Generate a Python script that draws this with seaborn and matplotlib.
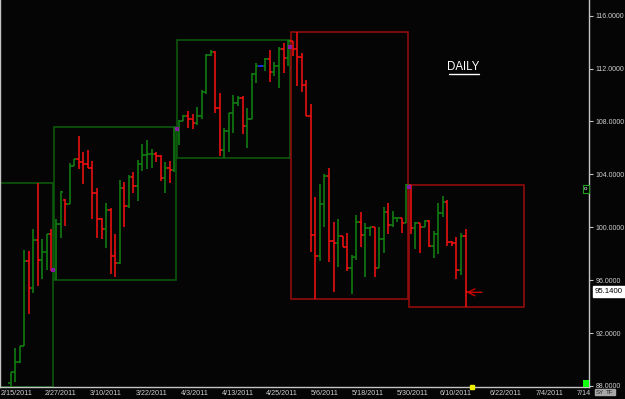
import matplotlib
matplotlib.use("Agg")
import matplotlib.pyplot as plt
import seaborn as sns
import numpy as np
from matplotlib.patches import Rectangle

# ---------------- data (daily OHLC) ----------------
opens = [88.2, 89.05, 89.8, 91.05, 97.45, 95.38, 99.04, 97.52, 98.15, 99.47,
         96.77, 100.24, 102.06, 101.73, 104.65, 105.16, 104.9, 104.8, 104.45, 102.6,
         100.6, 99.87, 101.28, 97.85, 97.3, 103.0, 101.58, 103.8, 103.1, 104.76,
         105.46, 105.5, 105.55, 105.36, 103.7, 104.45, 104.33, 107.5, 108.0, 108.4,
         108.16, 107.85, 108.4, 110.2, 113.02, 113.27, 108.98, 105.84, 107.3, 108.6,
         109.4, 109.8, 107.67, 108.2, 111.58, 112.2, 112.2, 112.7, 111.77, 112.2,
         113.47, 112.76, 114.1, 113.44, 112.9, 110.75, 108.43, 99.41, 97.83, 101.76,
         103.87, 98.96, 98.78, 99.34, 98.47, 96.95, 97.72, 100.37, 99.41, 99.92,
         100.0, 96.9, 99.1, 101.12, 100.17, 100.67, 100.7, 100.35, 103.2, 99.92,
         100.3, 100.04, 100.47, 98.6, 99.47, 101.05, 101.88, 98.85, 98.78, 96.77,
         99.36]
highs = [89.05, 90.9, 91.05, 98.28, 98.2, 99.87, 103.37, 99.09, 99.47, 99.84,
         100.62, 102.76, 102.13, 104.83, 105.16, 106.92, 105.7, 105.84, 105.0, 102.93,
         100.67, 101.8, 101.43, 99.5, 103.57, 103.4, 103.95, 104.2, 105.08, 106.3,
         106.6, 105.9, 105.67, 105.46, 104.9, 105.0, 107.6, 108.1, 108.5, 108.75,
         108.56, 109.06, 110.37, 113.1, 113.4, 113.3, 110.17, 107.5, 108.65, 110.0,
         109.9, 109.9, 109.0, 111.63, 112.4, 112.3, 112.76, 113.4, 112.5, 113.66,
         113.9, 114.15, 114.1, 114.73, 113.14, 111.13, 109.3, 102.26, 103.3, 104.0,
         104.5, 100.37, 100.6, 99.34, 99.54, 97.9, 100.92, 101.13, 100.3, 100.0,
         100.0, 100.0, 101.55, 101.8, 101.2, 100.73, 100.7, 103.3, 103.2, 100.42,
         100.3, 100.55, 100.55, 99.72, 101.8, 102.36, 102.06, 98.96, 99.24, 99.54,
         99.87]
lows = [87.95, 88.33, 89.76, 91.05, 93.42, 95.05, 95.56, 96.11, 96.77, 96.7,
        96.0, 99.16, 100.1, 101.73, 104.6, 104.38, 103.27, 104.45, 100.6, 99.16,
        99.1, 98.4, 96.5, 96.2, 97.2, 100.0, 101.45, 102.56, 101.98, 104.28,
        104.4, 104.45, 104.9, 103.5, 102.6, 103.36, 104.2, 106.2, 108.0, 107.5,
        107.4, 107.7, 108.16, 110.1, 112.95, 108.6, 105.35, 105.2, 105.7, 107.1,
        109.2, 107.05, 106.0, 108.16, 110.9, 112.15, 111.84, 111.0, 111.4, 110.5,
        111.63, 112.2, 112.96, 110.7, 110.25, 108.43, 98.15, 94.58, 97.47, 100.0,
        97.4, 95.13, 97.0, 98.47, 96.7, 94.93, 97.5, 98.53, 96.26, 99.3,
        96.26, 96.9, 98.07, 99.5, 100.0, 100.43, 99.6, 100.3, 99.47, 98.35,
        98.03, 100.04, 98.53, 97.65, 97.95, 100.75, 98.6, 98.6, 96.07, 96.4,
        93.99]
closes = [89.05, 89.8, 91.05, 97.45, 95.38, 99.04, 97.52, 98.15, 99.47, 96.77,
          100.24, 102.69, 101.73, 104.65, 105.16, 104.9, 104.8, 104.45, 102.6, 100.6,
          99.87, 101.28, 97.85, 97.3, 103.0, 101.58, 103.8, 103.1, 104.76, 105.46,
          105.5, 105.55, 105.36, 103.7, 104.45, 104.33, 107.5, 108.0, 108.4, 108.16,
          107.85, 108.4, 110.2, 113.02, 113.27, 108.98, 105.84, 107.3, 108.6, 109.4,
          109.8, 107.67, 108.2, 111.58, 112.2, 112.2, 112.7, 111.77, 112.2, 113.47,
          112.76, 114.1, 113.44, 112.9, 110.75, 108.43, 99.41, 97.83, 101.76, 103.87,
          98.96, 98.78, 99.34, 98.47, 96.95, 97.72, 100.37, 99.41, 99.92, 100.0,
          96.9, 99.1, 101.12, 100.17, 100.67, 100.7, 100.35, 103.2, 99.92, 100.3,
          100.04, 100.47, 98.6, 99.47, 101.05, 101.88, 98.85, 98.78, 96.77, 99.36,
          95.14]

# range boxes: first and last bar covered, and direction
box_first = [0, 10, 37, 62, 88]
box_last = [9, 36, 61, 87, 100]
box_dir = ["up", "up", "up", "down", "down"]

# x-axis date labels and the bar slot where each one starts
date_labels = ["2/15/2011", "2/27/2011", "3/10/2011", "3/22/2011", "4/3/2011",
               "4/13/2011", "4/25/2011", "5/6/2011", "5/18/2011", "5/30/2011",
               "6/10/2011", "6/22/2011", "7/4/2011", "7/14"]
date_slots = [-2.2, 7.45, 17.45, 27.45, 37.45, 46.45, 56.15, 66.0, 75.05, 84.95,
              94.4, 105.4, 115.5, 124.5]

y_ticks = [88, 92, 96, 100, 104, 108, 112, 116]
last_price = 95.14
title_text = "DAILY"

# ---------------- style ----------------
BG = "#050505"
sns.set_theme(style="dark", rc={"axes.facecolor": BG, "figure.facecolor": BG,
                                "axes.edgecolor": "#bbbbbb", "axes.grid": False})
plt.rcParams["font.family"] = ["Liberation Sans", "DejaVu Sans"]

UP, DOWN, FLAT = "#118011", "#f01010", "#1a2cff"
BOX_UP, BOX_DOWN = "#0c5e0c", "#9c0c0c"
AX_COL = "#c4c4c4"

fig = plt.figure(figsize=(6.25, 3.99), dpi=100)
ax = fig.add_axes([0, 12 / 399, 589 / 625, 387 / 399])
ax.set_xlim(-2.308, 127.14)
ax.set_ylim(87.92, 117.18)

n = len(closes)
idx = np.arange(n)
o = np.array(opens); h = np.array(highs); l = np.array(lows); c = np.array(closes)
cols = np.where(c > o, UP, np.where(c < o, DOWN, FLAT))

# range boxes (drawn under the bars)
for f, la, d in zip(box_first, box_last, box_dir):
    hi = h[f:la + 1].max(); lo = l[f:la + 1].min()
    left = f - 0.45 if f > 0 else -3.0
    right = la + 0.45 if la < n - 1 else la + 12.8
    ax.add_patch(Rectangle((left, lo), right - left, hi - lo, fill=False,
                           edgecolor=BOX_UP if d == "up" else BOX_DOWN, lw=1.1, zorder=1))

# OHLC bars
ax.vlines(idx, l, h, colors=cols, lw=1.15, zorder=3)
ax.hlines(o, idx - 0.5, idx, colors=cols, lw=1.15, zorder=3)
ax.hlines(c, idx, idx + 0.5, colors=cols, lw=1.15, zorder=3)

# small purple markers at box transitions
px = [9.41, 36.5, 61.4, 87.65]
py = [96.77, 107.4, 113.6, 103.06]
sns.scatterplot(x=px, y=py, ax=ax, color="#8a1aa0", marker="s", s=7, linewidth=0, zorder=4)

# arrow pointing at the last bar
ax.annotate("", xy=(100.2, 95.08), xytext=(103.6, 95.08),
            arrowprops=dict(arrowstyle="->,head_length=0.5,head_width=0.25",
                            color="#c80000", lw=1.0, mutation_scale=10,
                            shrinkA=0, shrinkB=0), zorder=5)

# DAILY label
ax.text(99.45, 112.1, title_text, color="white", fontsize=8.3,
        ha="center", va="center", zorder=5)
ax.plot([96.3, 102.9], [111.62, 111.62], color="white", lw=1.0, zorder=5)

# axes styling
ax.spines["top"].set_visible(False)
for s in ["left", "right", "bottom"]:
    ax.spines[s].set_color(AX_COL)
    ax.spines[s].set_linewidth(1.0)
ax.yaxis.tick_right()
ax.set_yticks(y_ticks)
ax.set_yticklabels([f"{v:.4f}" for v in y_ticks])
ax.tick_params(axis="y", colors=AX_COL, labelcolor="#d0d0d0", labelsize=5.0,
               length=3, width=0.8, pad=1.5, direction="out")
vis = [s for s in date_slots if s > -2.3]
ax.set_xticks(vis)
ax.set_xticklabels([])
ax.tick_params(axis="x", colors=AX_COL, length=2, width=0.8, direction="out")
for lab, s in zip(date_labels, date_slots):
    ax.text(s, 87.4, lab, color="#d0d0d0", fontsize=5.2, ha="left", va="center",
            clip_on=False)

# last price tag
ax.annotate(f"{last_price:.4f}", xy=(1.0, last_price), xycoords=("axes fraction", "data"),
            xytext=(4, 0), textcoords="offset points", fontsize=5.6, color="black",
            va="center", ha="left",
            bbox=dict(boxstyle="square,pad=0.25", fc="white", ec="white"))

# bright green square and small icon near the price axis
ax.add_patch(Rectangle((1 - 6 / 589, 0.0), 6 / 589, 7 / 387, transform=ax.transAxes,
                       fc="#10ff10", ec="none", zorder=6, clip_on=False))
ax.add_patch(Rectangle((1 - 6 / 589, (387 - 193) / 387), 6 / 589, 8 / 387,
                       transform=ax.transAxes, fc="black", ec="#20a020", lw=0.8,
                       zorder=6, clip_on=False))
ax.text(1 - 3 / 589, (387 - 189) / 387, "o", transform=ax.transAxes, color="white",
        fontsize=4.5, ha="center", va="center", zorder=7)
# yellow marker on the time axis
ax.plot([101.4], [87.92], marker="s", ms=2.5, color="#f0f000", clip_on=False, zorder=6)
# SY / TF buttons
fig.text(600 / 625, 7 / 399, "SY", fontsize=4.5, color="#222222", ha="center",
         va="center", bbox=dict(boxstyle="square,pad=0.15", fc="#a8a8a8", ec="#a8a8a8"))
fig.text(610 / 625, 7 / 399, "TF", fontsize=4.5, color="#222222", ha="center",
         va="center", bbox=dict(boxstyle="square,pad=0.15", fc="#a8a8a8", ec="#a8a8a8"))

fig.savefig("out.png", dpi=100, facecolor=BG)
